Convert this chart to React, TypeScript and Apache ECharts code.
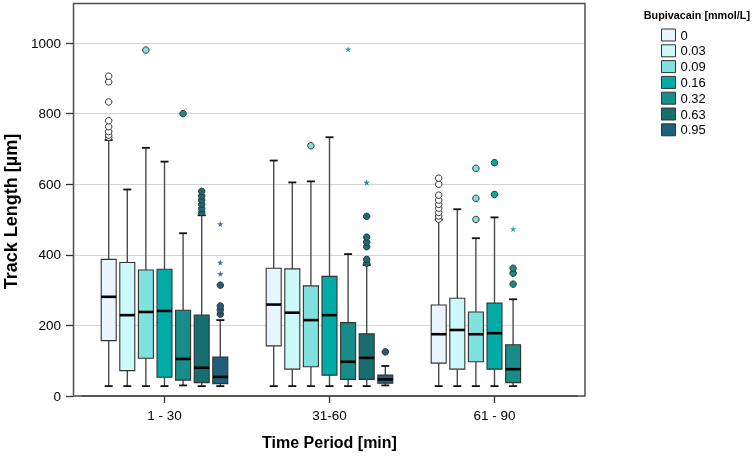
import React, { useEffect, useRef } from 'react';
import * as echarts from 'echarts';

const periods = ['1 - 30', '31-60', '61 - 90'];
const concentrations = ['0', '0.03', '0.09', '0.16', '0.32', '0.63', '0.95'];
const yTicks = [0, 200, 400, 600, 800, 1000];

// five-number summaries [min, Q1, median, Q3, max] per period (null = no data)
const box0 = [[28, 157, 281, 387, 725], [28, 142, 259, 362, 667], [28, 93, 175, 258, 499]];
const box003 = [[28, 72, 229, 378, 585], [28, 76, 236, 360, 605], [28, 76, 187, 277, 529]];
const box009 = [[28, 107, 238, 357, 703], [28, 83, 215, 312, 608], [28, 97, 175, 238, 447]];
const box016 = [[28, 53, 241, 359, 664], [28, 59, 229, 339, 733], [28, 76, 178, 263, 506]];
const box032 = [[30, 45, 105, 243, 461], [28, 47, 97, 208, 402], [28, 38, 76, 145, 274]];
const box063 = [[28, 38, 80, 229, 512], [28, 47, 108, 176, 371], null];
const box095 = [[28, 35, 54, 110, 215], [30, 36, 47, 59, 85], null];

// outliers (circles) per period
const out0 = [[733, 739, 749, 763, 780, 833, 890, 906], [], [501, 510, 520, 532, 543, 555, 569, 600, 617]];
const out003: number[][] = [[], [], []];
const out009 = [[980], [709], [500, 560, 645]];
const out016 = [[], [], [571, 661]];
const out032 = [[800], [], [317, 348, 362]];
const out063 = [[520, 531, 543, 555, 567, 580], [376, 387, 423, 436, 450, 509], []];
const out095 = [[232, 244, 255, 314], [125], []];

// extreme values (stars) per period
const ext0: number[][] = [[], [], []];
const ext003: number[][] = [[], [], []];
const ext009: number[][] = [[], [], []];
const ext016: number[][] = [[], [], []];
const ext032 = [[], [982], [473]];
const ext063 = [[], [605], []];
const ext095 = [[346, 378, 487], [], []];

const boxes = [box0, box003, box009, box016, box032, box063, box095];
const outliers = [out0, out003, out009, out016, out032, out063, out095];
const extremes = [ext0, ext003, ext009, ext016, ext032, ext063, ext095];

const fillColors = ['#eaf4fd', '#ccfafa', '#7fe2de', '#00aba6', '#178c88', '#176e70', '#1f5f79'];
const outlierFill = ['#ffffff', '#ccfafa', '#7fe2de', '#00aba6', '#178c88', '#176e70', '#1f5f79'];
const starColors = ['#8fb8d8', '#6fd0d0', '#3fc0bb', '#1aa8a4', '#2aa5a2', '#2a8a8c', '#3a7d9c'];

const FONT = 'Liberation Sans, Arial, Helvetica, sans-serif';
const STEP = 18.6;
const BOX_W = 15;
const CAP_W = 8;
const STAR = 'path://M50,0 L61,35 L98,35 L68,57 L79,91 L50,70 L21,91 L32,57 L2,35 L39,35 Z';

function flatten(arr: number[][]) {
  const res: number[][] = [];
  arr.forEach((vals, p) => vals.forEach((v) => res.push([p, v])));
  return res;
}

export default function App() {
  const ref = useRef<HTMLDivElement>(null);
  useEffect(() => {
    if (!ref.current) return;
    const chart = echarts.init(ref.current, undefined, { renderer: 'svg' });

    const series: any[] = [];
    concentrations.forEach((name, i) => {
      const offset = (i - 3) * STEP;
      const data: any[] = [];
      boxes[i].forEach((b, p) => {
        if (b) data.push([p, ...b]);
      });
      series.push({
        type: 'custom',
        name,
        xAxisIndex: 1,
        yAxisIndex: 1,
        itemStyle: { color: fillColors[i] },
        encode: { x: 0, y: [1, 2, 3, 4, 5] },
        data,
        renderItem: (params: any, api: any) => {
          const cat = api.value(0);
          const cx = api.coord([cat, 0])[0] + offset;
          const yMin = api.coord([cat, api.value(1)])[1];
          const yQ1 = api.coord([cat, api.value(2)])[1];
          const yMed = api.coord([cat, api.value(3)])[1];
          const yQ3 = api.coord([cat, api.value(4)])[1];
          const yMax = api.coord([cat, api.value(5)])[1];
          const whisker = { stroke: '#4a4a4a', lineWidth: 1.4 };
          const cap = { stroke: '#111', lineWidth: 1.8 };
          return {
            type: 'group',
            children: [
              { type: 'line', shape: { x1: cx, y1: yMax, x2: cx, y2: yQ3 }, style: whisker },
              { type: 'line', shape: { x1: cx, y1: yQ1, x2: cx, y2: yMin }, style: whisker },
              { type: 'line', shape: { x1: cx - CAP_W / 2, y1: yMax, x2: cx + CAP_W / 2, y2: yMax }, style: cap },
              { type: 'line', shape: { x1: cx - CAP_W / 2, y1: yMin, x2: cx + CAP_W / 2, y2: yMin }, style: cap },
              {
                type: 'rect',
                shape: { x: cx - BOX_W / 2, y: yQ3, width: BOX_W, height: yQ1 - yQ3 },
                style: { fill: fillColors[i], stroke: '#333', lineWidth: 1.1 },
              },
              {
                type: 'line',
                shape: { x1: cx - BOX_W / 2, y1: yMed, x2: cx + BOX_W / 2, y2: yMed },
                style: { stroke: '#000', lineWidth: 2.6 },
              },
            ],
          };
        },
      });
    });
    concentrations.forEach((name, i) => {
      const offset = (i - 3) * STEP;
      series.push({
        type: 'scatter',
        name: name + ' outliers',
        xAxisIndex: 1,
        yAxisIndex: 1,
        symbol: 'circle',
        symbolSize: 6.5,
        symbolOffset: [offset, 0],
        itemStyle: { color: outlierFill[i], borderColor: '#333', borderWidth: 1, opacity: 1 },
        data: flatten(outliers[i]),
      });
      series.push({
        type: 'scatter',
        name: name + ' extremes',
        xAxisIndex: 1,
        yAxisIndex: 1,
        symbol: STAR,
        symbolSize: 6.5,
        symbolOffset: [offset, 0],
        itemStyle: { color: starColors[i], opacity: 1 },
        data: flatten(extremes[i]),
      });
    });

    const option: any = {
      animation: false,
      textStyle: { fontFamily: FONT },
      title: {
        text: 'Bupivacain [mmol/L]',
        right: 3,
        top: 9,
        padding: 0,
        textStyle: { fontSize: 10.8, fontWeight: 'bold', color: '#000', fontFamily: FONT },
      },
      legend: {
        orient: 'vertical',
        left: 661,
        top: 28.5,
        padding: 0,
        itemWidth: 14,
        itemHeight: 12,
        itemGap: 2.8,
        selectedMode: false,
        textStyle: { fontSize: 13, color: '#000', fontFamily: FONT },
        data: concentrations.map((name, i) => ({
          name,
          icon: 'rect',
          itemStyle: { color: fillColors[i], borderColor: '#333', borderWidth: 1 },
        })),
      },
      grid: [
        { left: 73, right: 168, top: 43, bottom: 60 },
        { left: 82, right: 176, top: 43, bottom: 60 },
      ],
      xAxis: [
        { type: 'value', gridIndex: 0, show: false, min: 0, max: 1 },
        {
          type: 'category',
          gridIndex: 1,
          data: periods,
          axisLine: { show: true, lineStyle: { color: '#4d4d4d', width: 1.5 } },
          axisTick: { show: true, alignWithLabel: true, length: 7, lineStyle: { color: '#333', width: 1.3 } },
          axisLabel: { fontSize: 13.5, color: '#000', margin: 12, fontFamily: FONT },
          name: 'Time Period [min]',
          nameLocation: 'middle',
          nameGap: 38,
          nameTextStyle: { fontSize: 16, fontWeight: 'bold', color: '#000', fontFamily: FONT },
        },
      ],
      yAxis: [
        {
          type: 'value',
          gridIndex: 0,
          min: yTicks[0],
          max: yTicks[yTicks.length - 1],
          interval: 200,
          axisLine: { show: false },
          axisTick: { show: true, length: 7, lineStyle: { color: '#333', width: 1.3 } },
          axisLabel: {
            fontSize: 13.5,
            color: '#000',
            margin: 12,
            fontFamily: FONT,
            formatter: (v: number) => String(v),
          },
          splitLine: { show: true, lineStyle: { color: '#d4d4d4', width: 1.2 } },
        },
        {
          type: 'value',
          gridIndex: 1,
          min: yTicks[0],
          max: yTicks[yTicks.length - 1],
          interval: 200,
          show: false,
          splitLine: { show: false },
        },
      ],
      graphic: [
        {
          type: 'rect',
          shape: { x: 73.5, y: 3.5, width: 511.5, height: 392.5 },
          style: { fill: 'none', stroke: '#4d4d4d', lineWidth: 1.5 },
          silent: true,
          z: 10,
        },
        {
          type: 'text',
          x: 11,
          y: 211.5,
          rotation: Math.PI / 2,
          style: {
            text: 'Track Length [µm]',
            font: 'bold 18px ' + FONT,
            fill: '#000',
            textAlign: 'center',
            verticalAlign: 'middle',
            textVerticalAlign: 'middle',
          },
        },
      ],
      series,
    };
    chart.setOption(option);
    return () => chart.dispose();
  }, []);
  return <div ref={ref} style={{ position: 'fixed', left: 0, top: 0, width: 753, height: 456 }} />;
}
